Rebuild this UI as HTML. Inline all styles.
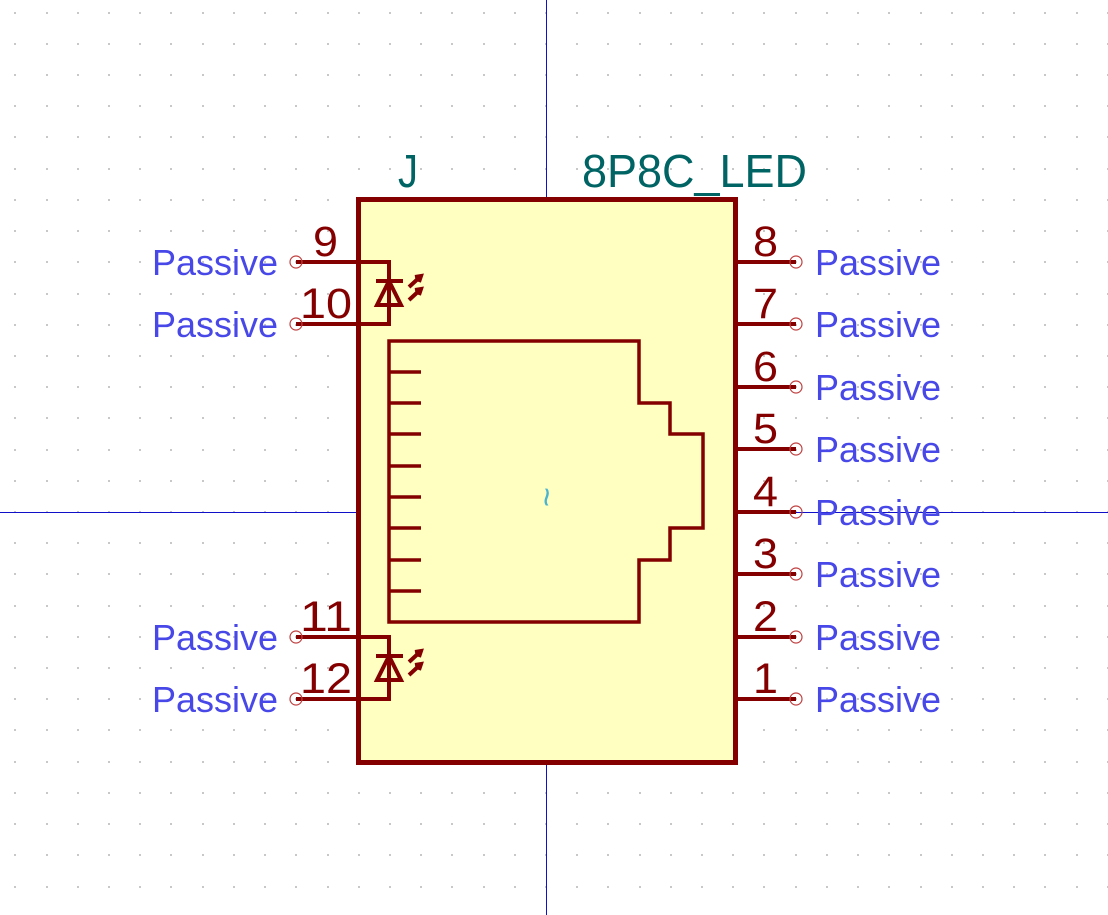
<!DOCTYPE html>
<html><head><meta charset="utf-8"><style>html,body{margin:0;padding:0;background:#fff}svg{display:block}</style></head>
<body>
<svg id="s" width="1108" height="915" viewBox="0 0 1108 915" xmlns="http://www.w3.org/2000/svg" font-family="'Liberation Sans', sans-serif">
<g id="grid"></g>
<line x1="546.5" y1="0" x2="546.5" y2="915" stroke="#1010c8" stroke-width="1"/>
<line x1="0" y1="512.5" x2="1108" y2="512.5" stroke="#1010c8" stroke-width="1"/>
<rect x="358.5" y="199.5" width="377" height="563" fill="#ffffc2" stroke="#840000" stroke-width="5"/>
<path d="M389 341 H639 V403 H670 V434 H703 V528 H670 V560 H639 V622 H389 Z" fill="none" stroke="#840000" stroke-width="3.5"/>
<g id="contacts"></g>
<text x="546" y="508" fill="#48b4d0" font-size="34" text-anchor="middle" transform="rotate(90 546 497)">~</text>
<text x="398" y="187" fill="#006464" font-size="46" textLength="20" lengthAdjust="spacingAndGlyphs">J</text>
<text x="582" y="187" fill="#006464" font-size="46" textLength="225" lengthAdjust="spacingAndGlyphs">8P8C_LED</text>
<g id="pins"></g>
<g id="leds"></g>
</svg>
<script>
const NS='http://www.w3.org/2000/svg';
function mk(parent,tag,attrs){const e=document.createElementNS(NS,tag);for(const k in attrs)e.setAttribute(k,attrs[k]);parent.appendChild(e);return e;}
const grid=document.getElementById('grid');
const P=31.21;
for(let x=546-17*P;x<1108;x+=P)for(let y=512-16*P;y<915;y+=P){
  const d=mk(grid,'rect',{x:Math.round(x)-1,y:Math.round(y)-1,width:2,height:2,fill:'#c8c8c8'});
  
  
}
const contacts=document.getElementById('contacts');
[372,403,434,466,497,528,560,591].forEach(y=>{
  const l=mk(contacts,'line',{x1:389,y1:y,x2:421,y2:y,stroke:'#840000','stroke-width':3.5});
  
  
});
const pins=document.getElementById('pins');
const rightPins=[['8',262],['7',324],['6',387],['5',449],['4',512],['3',574],['2',637],['1',699]];
const leftPins=[['9',262],['10',324],['11',637],['12',699]];
function pin(num,y,side){
  const g=mk(pins,'g',{});
  
  
  const x1=side==='r'?735:296, x2=side==='r'?796:358;
  mk(g,'line',{x1:x1,y1:y,x2:x2,y2:y,stroke:'#840000','stroke-width':4});
  const cx=side==='r'?796:296;
  mk(g,'circle',{cx:cx,cy:y,r:6,fill:'none',stroke:'#c04040','stroke-width':1.2});
  const nx=side==='r'?753:(num.length===1?313:300);
  const t=mk(g,'text',{x:nx,y:y-6,fill:'#840000','font-size':43,textLength:num.length===1?25:52,lengthAdjust:'spacingAndGlyphs'});
  t.textContent=num;
  const px=side==='r'?815:152;
  const p=mk(g,'text',{x:px,y:y+13,fill:'#4848e8','font-size':36,textLength:126,lengthAdjust:'spacingAndGlyphs'});
  p.textContent='Passive';
}
rightPins.forEach(p=>pin(p[0],p[1],'r'));
leftPins.forEach(p=>pin(p[0],p[1],'l'));
const leds=document.getElementById('leds');
[[262,324],[637,699]].forEach(([a,b])=>{
  const g=mk(leds,'g',{fill:'none',stroke:'#840000','stroke-width':4});
  
  
  const m=(a+b)/2;
  mk(g,'path',{d:`M358 ${a} H389 V${b} H358`});
  mk(g,'path',{d:`M376 ${m-12} H403 M389 ${m-12} L377 ${m+12} H401 Z`});
  mk(g,'path',{d:`M409 ${m-6} L421 ${m-17} M415 ${m-16} L421 ${m-17} L419 ${m-11} M409 ${m+7} L421 ${m-4} M415 ${m-3} L421 ${m-4} L419 ${m+2}`});
});
</script>
</body></html>
